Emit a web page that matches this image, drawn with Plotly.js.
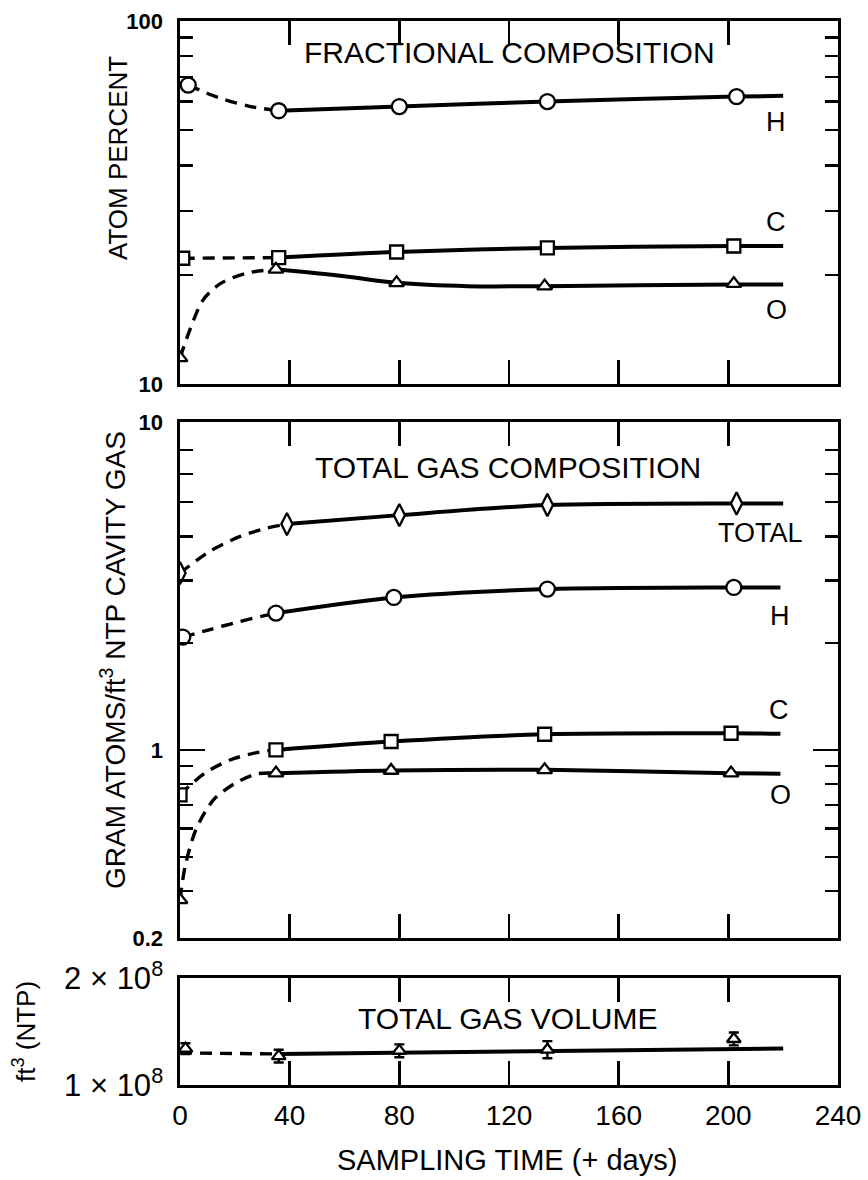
<!DOCTYPE html>
<html>
<head>
<meta charset="utf-8">
<script src="https://cdn.plot.ly/plotly-3.0.1.min.js"></script>
<style>
html,body{margin:0;padding:0;background:#ffffff;}
#chart{width:868px;height:1180px;}
</style>
</head>
<body>
<div id="chart"></div>
<script>
// ================= DATA =================
const xTickVals = [0, 40, 80, 120, 160, 200, 240];
const xTickText = ['0', '40', '80', '120', '160', '200', '240'];

// ---- Panel 1: FRACTIONAL COMPOSITION (atom percent) ----
const fracH_days = [3, 36, 80, 134, 203];
const fracH_pct  = [66.6, 56.6, 58.1, 60.0, 61.9];
const fracC_days = [1, 36, 79, 134, 202];
const fracC_pct  = [22.2, 22.3, 23.1, 23.7, 24.0];
const fracO_days = [0, 35, 79, 133, 202];
const fracO_pct  = [11.8, 20.7, 19.0, 18.6, 18.9];
// drawn curves (dashed = extrapolated part, solid = fitted part)
const fracH_dash_days = [3, 14, 25, 36];
const fracH_dash_pct  = [66.6, 61.5, 58.3, 56.6];
const fracH_fit_days  = [36, 80, 134, 203, 220];
const fracH_fit_pct   = [56.6, 58.1, 60.0, 61.9, 62.2];
const fracC_dash_days = [1, 36];
const fracC_dash_pct  = [22.2, 22.3];
const fracC_fit_days  = [36, 79, 134, 202, 220];
const fracC_fit_pct   = [22.3, 23.1, 23.7, 24.0, 24.0];
const fracO_dash_days = [0, 3.6, 8.3, 14.7, 24.2, 35];
const fracO_dash_pct  = [11.8, 14.1, 17.0, 18.9, 20.2, 20.7];
const fracO_fit_days  = [35, 60, 79, 105, 133, 202, 220];
const fracO_fit_pct   = [20.7, 19.8, 19.0, 18.6, 18.6, 18.8, 18.8];
const fracTickVals  = [10, 100];
const fracTickText  = ['10', '100'];
const fracMinorVals = [20, 30, 40, 50, 60, 70, 80, 90];

// ---- Panel 2: TOTAL GAS COMPOSITION (gram atoms / ft3 NTP cavity gas) ----
const totT_days = [0, 39, 80, 134, 203];
const totT_val  = [3.15, 4.33, 4.59, 4.90, 4.95];
const totH_days = [1, 35, 78, 134, 202];
const totH_val  = [2.08, 2.43, 2.69, 2.84, 2.87];
const totC_days = [0, 35, 77, 133, 201];
const totC_val  = [0.747, 1.00, 1.056, 1.107, 1.114];
const totO_days = [0, 35, 77, 133, 201];
const totO_val  = [0.378, 0.86, 0.875, 0.879, 0.86];
const totT_dash_days = [0, 10.6, 21.7, 31.3, 39];
const totT_dash_val  = [3.15, 3.62, 3.99, 4.21, 4.33];
const totT_fit_days  = [39, 80, 134, 203, 220];
const totT_fit_val   = [4.33, 4.59, 4.90, 4.95, 4.95];
const totH_dash_days = [1, 10.6, 21.7, 29.7, 35];
const totH_dash_val  = [2.08, 2.18, 2.30, 2.38, 2.43];
const totH_fit_days  = [35, 78, 134, 202, 219];
const totH_fit_val   = [2.43, 2.69, 2.84, 2.87, 2.87];
const totC_dash_days = [0, 9, 18.5, 28, 35];
const totC_dash_val  = [0.747, 0.86, 0.938, 0.983, 1.00];
const totC_fit_days  = [35, 77, 133, 201, 219];
const totC_fit_val   = [1.00, 1.056, 1.107, 1.114, 1.11];
const totO_dash_days = [0, 1.85, 5.8, 12.2, 20.1, 28.1, 35];
const totO_dash_val  = [0.378, 0.469, 0.596, 0.723, 0.805, 0.856, 0.86];
const totO_fit_days  = [35, 77, 133, 201, 219];
const totO_fit_val   = [0.86, 0.875, 0.879, 0.86, 0.857];
const totTickVals  = [0.295, 1, 8.4];          // frame ends as printed "0.2" and "10"
const totTickText  = ['0.2', '1', '10'];
const totMinorVals = [0.4, 0.5, 0.6, 0.7, 0.8, 0.9, 2, 3, 4, 5, 6, 7];

// ---- Panel 3: TOTAL GAS VOLUME (ft3 NTP) ----
const vol_days = [2, 36, 80, 134, 202];
const vol_ft3  = [1.34e8, 1.27e8, 1.32e8, 1.33e8, 1.43e8];
const vol_err  = [0.05e8, 0.06e8, 0.06e8, 0.08e8, 0.06e8];
const vol_dash_days = [0, 36];
const vol_dash_ft3  = [1.30e8, 1.29e8];
const vol_fit_days  = [36, 220];
const vol_fit_ft3   = [1.29e8, 1.34e8];
const volTickVals = [1e8, 2e8];
const volTickText = ['1 \u00d7 10<sup>8</sup>', '2 \u00d7 10<sup>8</sup>'];

// ================= STYLE =================
const FONT = 'Liberation Sans, Arial, sans-serif';
const INK = '#000000';
const DASH = '12px,8px';

function curve(x, y, xa, ya, dashed) {
  return {x: x, y: y, xaxis: xa, yaxis: ya, type: 'scatter', mode: 'lines',
    line: {color: INK, width: dashed ? 3.4 : 4, dash: dashed ? DASH : 'solid', shape: 'spline', smoothing: 0.8},
    hoverinfo: 'skip', showlegend: false};
}
function marks(x, y, xa, ya, symbol, size, extra) {
  const t = {x: x, y: y, xaxis: xa, yaxis: ya, type: 'scatter', mode: 'markers',
    marker: {symbol: symbol, size: size, color: '#ffffff', line: {color: INK, width: 2.3}},
    showlegend: false};
  return Object.assign(t, extra || {});
}

const traces = [
  // panel 1
  curve(fracH_dash_days, fracH_dash_pct, 'x3', 'y', true),
  curve(fracH_fit_days, fracH_fit_pct, 'x3', 'y', false),
  curve(fracC_dash_days, fracC_dash_pct, 'x3', 'y', true),
  curve(fracC_fit_days, fracC_fit_pct, 'x3', 'y', false),
  curve(fracO_dash_days, fracO_dash_pct, 'x3', 'y', true),
  curve(fracO_fit_days, fracO_fit_pct, 'x3', 'y', false),
  marks(fracH_days, fracH_pct, 'x3', 'y', 'circle', 15),
  marks(fracC_days, fracC_pct, 'x3', 'y', 'square', 13),
  marks(fracO_days, fracO_pct, 'x3', 'y', 'triangle-up', 13),
  // panel 2
  curve(totT_dash_days, totT_dash_val, 'x2', 'y2', true),
  curve(totT_fit_days, totT_fit_val, 'x2', 'y2', false),
  curve(totH_dash_days, totH_dash_val, 'x2', 'y2', true),
  curve(totH_fit_days, totH_fit_val, 'x2', 'y2', false),
  curve(totC_dash_days, totC_dash_val, 'x2', 'y2', true),
  curve(totC_fit_days, totC_fit_val, 'x2', 'y2', false),
  curve(totO_dash_days, totO_dash_val, 'x2', 'y2', true),
  curve(totO_fit_days, totO_fit_val, 'x2', 'y2', false),
  marks(totT_days, totT_val, 'x2', 'y2', 'diamond-tall', 16),
  marks(totH_days, totH_val, 'x2', 'y2', 'circle', 15),
  marks(totC_days, totC_val, 'x2', 'y2', 'square', 13),
  marks(totO_days, totO_val, 'x2', 'y2', 'triangle-up', 13),
  // panel 3
  curve(vol_dash_days, vol_dash_ft3, 'x', 'y3', true),
  curve(vol_fit_days, vol_fit_ft3, 'x', 'y3', false),
  marks(vol_days, vol_ft3, 'x', 'y3', 'triangle-up', 12,
    {error_y: {type: 'data', array: vol_err, visible: true, color: INK, thickness: 2.4, width: 5}})
];

// plot area: left 180, right 838, top 21, bottom 1085 (pixels)
const L = 180, R = 838, T = 21, B = 1085;
const PX = p => (p - L) / (R - L);
const PY = p => (B - p) / (B - T);

const frame = {showline: true, linecolor: INK, linewidth: 2.6, mirror: 'ticks',
  ticks: 'inside', tickcolor: INK, tickwidth: 2.4, showgrid: false, zeroline: false};

function xAxis(anchor, labels) {
  return Object.assign({}, frame, {anchor: anchor, range: [0, 240], tickmode: 'array',
    tickvals: xTickVals, ticktext: xTickText, ticklen: 24, showticklabels: labels,
    tickfont: {family: FONT, size: 28, color: INK}, ticklabelstandoff: 4},
    labels ? {} : {matches: 'x'});
}
function minorTicks(vals) {
  return {tickmode: 'array', tickvals: vals, ticks: 'inside', ticklen: 13, tickwidth: 2.4,
    tickcolor: INK, showgrid: false};
}
const yTickFont = {family: FONT, size: 22, color: INK, weight: 'bold'};

const layout = {
  width: 868, height: 1180,
  margin: {l: L, r: 868 - R, t: T, b: 1180 - B, pad: 0},
  paper_bgcolor: '#ffffff', plot_bgcolor: '#ffffff',
  showlegend: false,
  font: {family: FONT, color: INK},
  xaxis: xAxis('y3', true),
  xaxis2: xAxis('y2', false),
  xaxis3: xAxis('y', false),
  yaxis: Object.assign({}, frame, {domain: [PY(384), 1], anchor: 'x3', type: 'log',
    range: [Math.log10(fracTickVals[0]), Math.log10(fracTickVals[fracTickVals.length - 1])],
    tickmode: 'array', tickvals: fracTickVals, ticktext: fracTickText, ticklen: 13,
    minor: minorTicks(fracMinorVals), tickfont: yTickFont, ticklabelstandoff: 10}),
  yaxis2: Object.assign({}, frame, {domain: [PY(938), PY(422)], anchor: 'x2', type: 'log',
    range: [Math.log10(totTickVals[0]), Math.log10(totTickVals[totTickVals.length - 1])],
    tickmode: 'array', tickvals: totTickVals, ticktext: totTickText, ticklen: 25,
    minor: minorTicks(totMinorVals), tickfont: yTickFont, ticklabelstandoff: 10}),
  yaxis3: Object.assign({}, frame, {domain: [0, PY(978)], anchor: 'x', range: [1e8, 2e8],
    tickmode: 'array', tickvals: volTickVals, ticktext: volTickText, ticks: '',
    tickfont: {family: FONT, size: 31, color: INK}, ticklabelstandoff: 8}),
  annotations: [
    {text: 'FRACTIONAL COMPOSITION', x: PX(509), y: PY(52), size: 30},
    {text: 'TOTAL GAS COMPOSITION', x: PX(508), y: PY(467), size: 30},
    {text: 'TOTAL GAS VOLUME', x: PX(508), y: PY(1018), size: 30},
    {text: 'H', x: PX(776), y: PY(122), size: 27},
    {text: 'C', x: PX(776), y: PY(222), size: 27},
    {text: 'O', x: PX(776), y: PY(310), size: 27},
    {text: 'TOTAL', x: PX(760), y: PY(533), size: 27},
    {text: 'H', x: PX(780), y: PY(616), size: 27},
    {text: 'C', x: PX(779), y: PY(710), size: 27},
    {text: 'O', x: PX(780), y: PY(795), size: 27},
    {text: 'ATOM PERCENT', x: PX(118), y: PY(158), size: 26, angle: -90},
    {text: 'GRAM ATOMS/ft<sup>3</sup> NTP CAVITY GAS', x: PX(113), y: PY(660), size: 28, angle: -90},
    {text: 'ft<sup>3</sup> (NTP)', x: PX(24), y: PY(1032), size: 26, angle: -90},
    {text: 'SAMPLING TIME (+ days)', x: PX(507), y: PY(1160), size: 29}
  ].map(a => ({text: a.text, x: a.x, y: a.y, xref: 'paper', yref: 'paper',
    xanchor: 'center', yanchor: 'middle', showarrow: false, textangle: a.angle || 0,
    font: {family: FONT, size: a.size, color: INK}}))
};

Plotly.newPlot('chart', traces, layout, {staticPlot: true, displayModeBar: false}).then(function (gd) {
  // drop Plotly's empty placeholder text nodes (unused axis / plot titles)
  gd.querySelectorAll('text').forEach(function (t) {
    if (!t.textContent || !t.textContent.trim()) t.parentNode.removeChild(t);
  });
});
</script>
</body>
</html>
